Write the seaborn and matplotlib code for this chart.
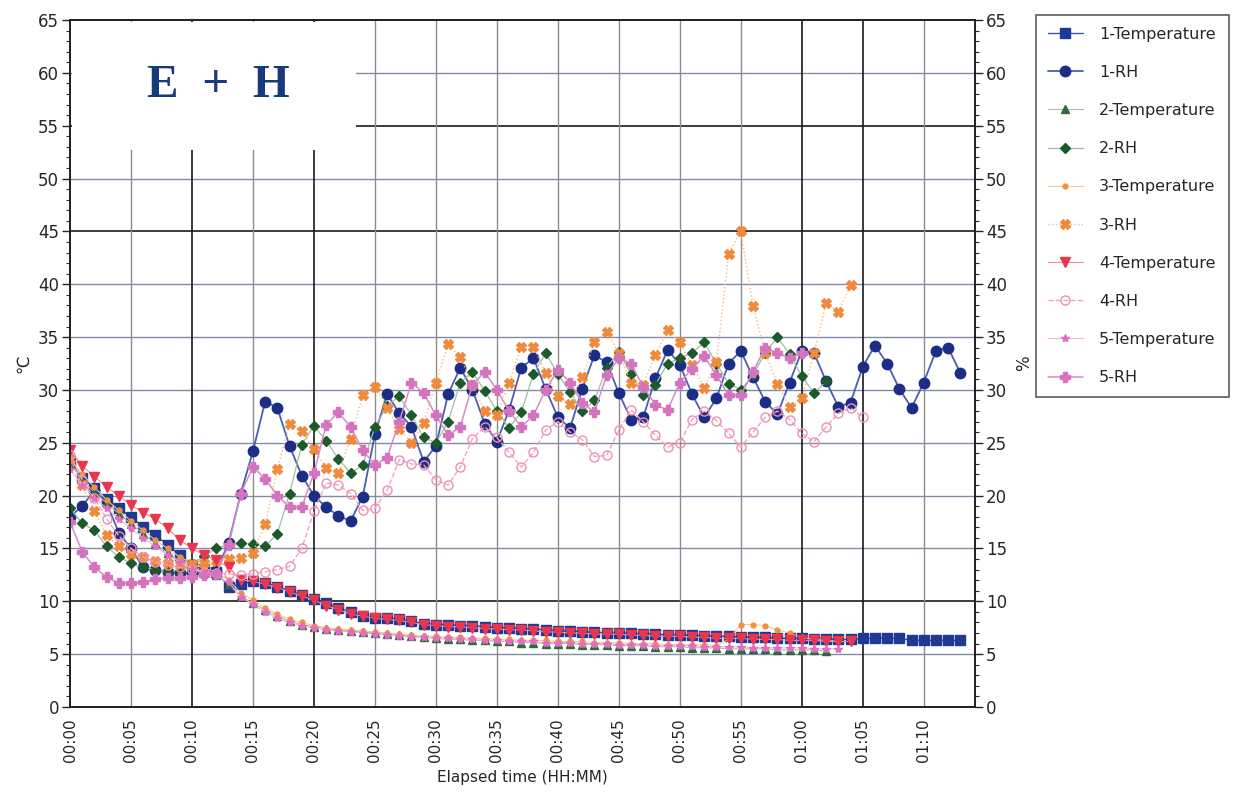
import numpy as np
import pandas as pd
import matplotlib
matplotlib.use("Agg")
import matplotlib.pyplot as plt
import seaborn as sns
from matplotlib.patches import Rectangle
from matplotlib.ticker import MultipleLocator

sns.set_theme(style="white")
plt.rcParams['font.family'] = ['DejaVu Sans']

# ---------------- data (1-minute samples) ----------------
tick_minutes = [0, 5, 10, 15, 20, 25, 30, 35, 40, 45, 50, 55, 60, 65, 70]
tick_labels = ["00:00", "00:05", "00:10", "00:15", "00:20", "00:25", "00:30", "00:35",
               "00:40", "00:45", "00:50", "00:55", "01:00", "01:05", "01:10"]

temp1 = [23.3, 21.7, 20.7, 19.7, 18.8, 18.0, 17.0, 16.3, 15.3, 14.4,
         13.4, 13.1, 12.8, 11.4, 11.6, 11.9, 11.7, 11.4, 11.0, 10.6,
         10.2, 9.8, 9.4, 9.0, 8.6, 8.4, 8.4, 8.3, 8.1, 7.9,
         7.8, 7.8, 7.7, 7.7, 7.6, 7.5, 7.5, 7.4, 7.4, 7.3,
         7.2, 7.2, 7.1, 7.1, 7.0, 7.0, 7.0, 6.9, 6.9, 6.8,
         6.8, 6.8, 6.7, 6.7, 6.7, 6.6, 6.6, 6.6, 6.5, 6.5,
         6.5, 6.4, 6.4, 6.4, 6.4, 6.5, 6.5, 6.5, 6.5, 6.3,
         6.3, 6.3, 6.3, 6.3]
rh1 = [18.0, 19.0, 20.5, 19.3, 16.5, 15.0, 13.2, 13.0, 12.8, 12.7,
       12.7, 12.7, 12.9, 15.5, 20.2, 24.2, 28.9, 28.3, 24.7, 21.9,
       20.0, 18.9, 18.1, 17.6, 19.9, 25.8, 29.6, 27.8, 26.5, 23.2,
       24.7, 29.6, 32.1, 30.0, 26.8, 25.1, 28.1, 32.1, 33.0, 30.1,
       27.4, 26.4, 30.1, 33.3, 32.6, 29.7, 27.2, 27.4, 31.1, 33.8,
       32.4, 29.6, 27.4, 29.2, 32.5, 33.7, 31.2, 28.9, 27.7, 30.7,
       33.7, 33.5, 30.8, 28.4, 28.8, 32.2, 34.2, 32.5, 30.1, 28.3,
       30.7, 33.7, 34.0, 31.6]
temp2 = [23.0, 21.5, 20.3, 19.3, 18.3, 17.3, 16.4, 15.4, 14.6, 13.8,
         13.2, 12.8, 12.5, 11.6, 10.5, 9.8, 9.2, 8.6, 8.1, 7.8,
         7.6, 7.4, 7.3, 7.2, 7.1, 7.0, 6.9, 6.8, 6.7, 6.6,
         6.5, 6.4, 6.4, 6.3, 6.3, 6.2, 6.2, 6.1, 6.1, 6.0,
         6.0, 6.0, 5.9, 5.9, 5.9, 5.8, 5.8, 5.8, 5.7, 5.7,
         5.7, 5.6, 5.6, 5.6, 5.5, 5.5, 5.5, 5.5, 5.4, 5.4,
         5.4, 5.4, 5.3]
rh2 = [18.8, 17.4, 16.7, 15.2, 14.2, 13.6, 13.2, 13.0, 12.8, 12.9,
       13.5, 14.3, 15.0, 15.4, 15.5, 15.4, 15.2, 16.4, 20.2, 24.8,
       26.6, 25.2, 23.5, 22.1, 22.9, 26.5, 28.5, 29.4, 27.6, 25.5,
       25.0, 27.0, 30.7, 31.7, 29.9, 28.0, 26.4, 27.9, 31.5, 33.5,
       31.5, 29.8, 28.0, 29.0, 32.1, 33.6, 31.5, 29.5, 30.5, 32.5,
       33.0, 33.5, 34.5, 32.5, 30.6, 30.0, 31.4, 33.5, 35.0, 33.4,
       31.3, 29.7, 30.8]
temp3 = [23.5, 22.0, 20.8, 19.6, 18.6, 17.6, 16.7, 15.8, 15.0, 14.2,
         13.6, 13.1, 12.8, 12.0, 10.8, 10.1, 9.4, 8.8, 8.3, 8.0,
         7.7, 7.5, 7.4, 7.3, 7.2, 7.1, 7.0, 6.9, 6.8, 6.7,
         6.7, 6.6, 6.6, 6.5, 6.5, 6.4, 6.4, 6.3, 6.3, 6.3,
         6.2, 6.2, 6.2, 6.1, 6.1, 6.1, 6.0, 6.0, 6.0, 5.9,
         5.9, 5.9, 5.9, 5.8, 6.4, 7.8, 7.8, 7.7, 7.3, 7.0,
         6.6, 6.4, 6.3, 6.2]
rh3 = [23.5, 21.0, 18.5, 16.3, 15.2, 14.5, 14.2, 13.8, 13.6, 13.5,
       13.5, 13.6, 13.8, 14.0, 14.1, 14.6, 17.3, 22.5, 26.8, 26.1,
       24.4, 22.6, 22.1, 25.4, 29.5, 30.3, 28.3, 26.3, 25.0, 26.9,
       30.7, 34.3, 33.1, 30.5, 28.0, 27.6, 30.7, 34.1, 34.1, 31.6,
       29.4, 28.7, 31.2, 34.5, 35.5, 33.5, 30.7, 30.5, 33.3, 35.7,
       34.5, 32.4, 30.2, 32.6, 42.9, 45.0, 37.9, 33.5, 30.6, 28.4,
       29.2, 33.5, 38.2, 37.4, 39.9]
temp4 = [24.3, 22.8, 21.8, 20.8, 20.0, 19.1, 18.4, 17.8, 16.9, 15.8,
         15.0, 14.4, 13.9, 13.2, 12.0, 11.9, 11.6, 11.3, 10.9, 10.5,
         10.1, 9.6, 9.2, 8.8, 8.6, 8.4, 8.3, 8.2, 8.0, 7.8,
         7.7, 7.6, 7.6, 7.5, 7.4, 7.4, 7.3, 7.3, 7.2, 7.1,
         7.1, 7.0, 7.0, 6.9, 6.9, 6.9, 6.8, 6.8, 6.7, 6.7,
         6.7, 6.6, 6.6, 6.5, 6.5, 6.5, 6.4, 6.4, 6.4, 6.3,
         6.3, 6.3, 6.2, 6.2, 6.2]
rh4 = [23.8, 21.5, 19.8, 17.8, 16.2, 15.0, 14.2, 13.7, 13.4, 13.2,
       13.0, 12.8, 12.7, 12.6, 12.5, 12.6, 12.8, 13.0, 13.3, 15.0,
       18.5, 21.2, 21.0, 20.2, 18.6, 18.8, 20.5, 23.4, 23.0, 22.9,
       21.5, 21.0, 22.7, 25.4, 26.5, 25.5, 24.1, 22.7, 24.1, 26.2,
       27.0, 26.0, 25.3, 23.7, 23.8, 26.2, 28.1, 27.0, 25.7, 24.6,
       25.0, 27.2, 28.0, 27.1, 25.9, 24.6, 26.0, 27.4, 28.0, 27.2,
       25.9, 25.1, 26.5, 27.8, 28.3, 27.4]
temp5 = [22.5, 21.0, 19.8, 18.8, 17.8, 16.9, 16.0, 15.2, 14.4, 13.7,
         13.1, 12.7, 12.4, 11.8, 10.4, 9.7, 9.0, 8.4, 8.0, 7.7,
         7.5, 7.3, 7.2, 7.1, 7.0, 6.9, 6.8, 6.7, 6.6, 6.6,
         6.5, 6.5, 6.4, 6.4, 6.3, 6.3, 6.2, 6.2, 6.2, 6.1,
         6.1, 6.1, 6.0, 6.0, 6.0, 5.9, 5.9, 5.9, 5.8, 5.8,
         5.8, 5.8, 5.7, 5.7, 5.7, 5.7, 5.6, 5.6, 5.6, 5.6,
         5.6, 5.5, 5.5, 5.5]
rh5 = [17.5, 14.7, 13.2, 12.3, 11.7, 11.7, 11.8, 12.1, 12.2, 12.2,
       12.3, 12.5, 12.6, 15.3, 20.2, 22.7, 21.6, 20.0, 18.9, 18.9,
       22.1, 26.7, 27.9, 26.5, 24.3, 22.9, 23.6, 27.0, 30.7, 29.7,
       27.6, 25.7, 26.5, 30.5, 31.7, 30.0, 28.0, 26.5, 27.6, 30.0,
       31.9, 30.7, 28.8, 27.9, 31.4, 33.0, 32.5, 30.3, 28.6, 28.1,
       30.7, 32.0, 33.2, 31.4, 29.5, 29.5, 31.7, 34.0, 33.5, 33.0,
       33.5]

series = [
    ("1-Temperature", temp1),
    ("1-RH", rh1),
    ("2-Temperature", temp2),
    ("2-RH", rh2),
    ("3-Temperature", temp3),
    ("3-RH", rh3),
    ("4-Temperature", temp4),
    ("4-RH", rh4),
    ("5-Temperature", temp5),
    ("5-RH", rh5),
]

styles = {
    "1-Temperature": dict(color="#3c57a8", marker="s", mfc="#1f3a94", mec="#1f3a94", ms=6.5, ls="-", lw=1.0),
    "1-RH": dict(color="#4a5fae", marker="o", mfc="#1c2d86", mec="#1c2d86", ms=7.5, ls="-", lw=1.3),
    "2-Temperature": dict(color="#a9c2a9", marker="^", mfc="#2e6b3a", mec="#2e6b3a", ms=5.5, ls="-", lw=0.8),
    "2-RH": dict(color="#9fbfa3", marker="D", mfc="#1d5a2b", mec="#1d5a2b", ms=5.5, ls="-", lw=0.9),
    "3-Temperature": dict(color="#f6c59a", marker="o", mfc="#f0913f", mec="#f0913f", ms=3.5, ls="-", lw=0.8),
    "3-RH": dict(color="#f7b987", marker="X", mfc="#f08a3c", mec="#f08a3c", ms=7, ls=":", lw=1.0),
    "4-Temperature": dict(color="#f08a98", marker="v", mfc="#e8364f", mec="#e8364f", ms=7, ls="-", lw=0.8),
    "4-RH": dict(color="#f4a3bf", marker="o", mfc="none", mec="#ee8fb0", ms=6.5, ls="--", lw=1.0),
    "5-Temperature": dict(color="#f2b0dc", marker="*", mfc="#e46cc4", mec="#e46cc4", ms=6, ls="-", lw=0.8),
    "5-RH": dict(color="#d98ac9", marker="P", mfc="#d574be", mec="#d574be", ms=7, ls="-", lw=1.1),
}

# ---------------- figure ----------------
fig = plt.figure(figsize=(12.39, 8.0), dpi=100)
ax = fig.add_axes([0.0565, 0.11625, 0.7304, 0.85875])

handles = []
for name, vals in series:
    df = pd.DataFrame({"minute": np.arange(len(vals)), "value": vals})
    st = styles[name]
    sns.lineplot(data=df, x="minute", y="value", ax=ax, estimator=None, sort=False,
                 color=st["color"], linestyle=st["ls"], linewidth=st["lw"],
                 marker=st["marker"], markerfacecolor=st["mfc"], markeredgecolor=st["mec"],
                 markersize=st["ms"], markeredgewidth=1.0, zorder=3)
    handles.append(ax.lines[-1])

ax.set_xlim(0, 74.2)
ax.set_ylim(0, 65)
ax.set_xticks(tick_minutes)
ax.set_xticklabels(tick_labels, rotation=90, fontsize=11)
ax.yaxis.set_major_locator(MultipleLocator(5))
ax.yaxis.set_minor_locator(MultipleLocator(1))
ax.tick_params(axis="y", which="major", direction="out", length=6, width=1, labelsize=12, pad=2)
ax.tick_params(axis="y", which="minor", direction="out", length=3, width=0.8)
ax.tick_params(axis="x", which="major", direction="out", length=4, labelsize=11, pad=4)

# grid
for v in range(5, 65, 5):
    dark = v in (10, 45, 55)
    ax.axhline(v, color="#1a1a1a" if dark else "#7f8ca3", lw=1.2 if dark else 1.0, zorder=0.5)
for m in tick_minutes[1:]:
    dark = m in (10, 20, 60, 65)
    ax.axvline(m, color="#1a1a1a" if dark else "#8c8c8c", lw=1.2 if dark else 1.0, zorder=0.5)
for s in ax.spines.values():
    s.set_color("#222222")
    s.set_linewidth(1.3)

# title box
ax.add_patch(Rectangle((0.15, 52.7), 23.3, 12.1, facecolor="white", edgecolor="none", zorder=1))
ax.text(12.2, 58.8, "E  +  H", ha="center", va="center", fontsize=34, fontweight="bold",
        family="Liberation Serif", color="#163a7c", zorder=2)

ax.set_xlabel("Elapsed time (HH:MM)", fontsize=11, labelpad=6)
ax.set_ylabel("℃", fontsize=12, labelpad=4)

# right axis
ax2 = ax.twinx()
ax2.set_ylim(0, 65)
ax2.yaxis.set_major_locator(MultipleLocator(5))
ax2.yaxis.set_minor_locator(MultipleLocator(1))
ax2.tick_params(axis="y", which="major", direction="out", length=6, width=1, labelsize=12, pad=2)
ax2.tick_params(axis="y", which="minor", direction="out", length=3, width=0.8)
ax2.set_ylabel("%", fontsize=12, rotation=90, labelpad=6)
ax2.grid(False)
for s in ax2.spines.values():
    s.set_color("#222222")
    s.set_linewidth(1.3)

labels = [n for n, _ in series]
leg = fig.legend(handles, labels, loc="upper left", bbox_to_anchor=(0.8295, 0.9915, 0.169, 0.0),
                 mode="expand", fontsize=11.5, labelspacing=1.45, handlelength=2.2,
                 handletextpad=1.0, borderpad=0.75, frameon=True, fancybox=False)
leg.get_frame().set_edgecolor("#333333")
leg.get_frame().set_linewidth(1.2)

fig.savefig("out.png", dpi=100)
